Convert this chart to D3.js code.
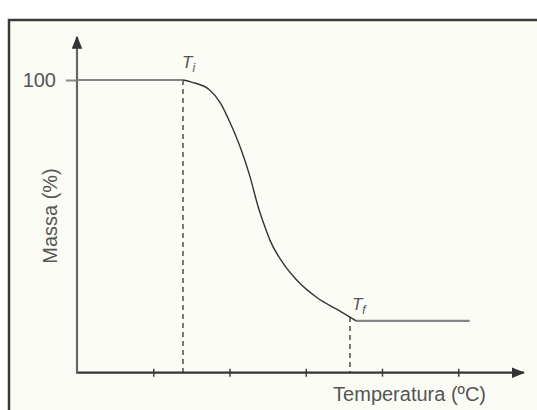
<!DOCTYPE html>
<html>
<head>
<meta charset="utf-8">
<script src="https://cdn.jsdelivr.net/npm/d3@7"></script>
<style>
  body { margin: 0; background: #fff; }
  svg text { font-family: "Liberation Sans", Arial, sans-serif; fill: #555; }
</style>
</head>
<body>
<div id="chart"></div>
<script>
// TGA-like curve: temperature vs mass (%)
var tempTicks = [100, 200, 300, 400, 500];
var massTicks = [100];
var Ti = 139, Tf = 358;
var plateauStart = [[0, 100], [139, 100]];
var curveTemp = [139, 150, 174, 188, 201, 214, 227, 237, 247, 253, 270, 289, 315, 341, 358, 366];
var curveMass = [100, 99.3, 96.6, 92.2, 85.3, 77.1, 66.9, 57.2, 49.4, 45.3, 37.5, 31.4, 25.6, 21.6, 19.0, 17.7];
var plateauEnd = [[366, 17.7], [515, 17.7]];

var width = 537, height = 410;

var svg = d3.select("#chart").append("svg")
    .attr("width", width)
    .attr("height", height);

// frame
svg.append("rect")
    .attr("x", 9).attr("y", 20)
    .attr("width", 600).attr("height", 500)
    .attr("fill", "#fcfcf6")
    .attr("stroke", "#3a3a3a")
    .attr("stroke-width", 2.5);

var xScale = d3.scaleLinear().domain([0, 600]).range([77, 534.5]);
var yScale = d3.scaleLinear().domain([0, 100]).range([372.7, 80]);

// arrow head
svg.append("defs").append("marker")
    .attr("id", "arrow")
    .attr("viewBox", "0 0 10 10")
    .attr("refX", 9).attr("refY", 5)
    .attr("markerWidth", 6).attr("markerHeight", 6)
    .attr("markerUnits", "strokeWidth")
    .attr("orient", "auto")
  .append("path")
    .attr("d", "M0,1 L10,5 L0,9 Z")
    .attr("fill", "#333");

// x axis ticks
var xAxis = svg.append("g")
    .attr("class", "x axis")
    .attr("transform", "translate(0," + yScale(0) + ")")
    .call(d3.axisBottom(xScale).tickValues(tempTicks).tickSizeOuter(0).tickSizeInner(4).tickFormat(""));
xAxis.select(".domain").remove();
xAxis.selectAll("line").attr("y1", -4).attr("y2", 4).attr("stroke", "#444").attr("stroke-width", 1.5);

// y axis tick + label
var yAxis = svg.append("g")
    .attr("class", "y axis")
    .attr("transform", "translate(" + xScale(0) + ",0)")
    .call(d3.axisLeft(yScale).tickValues(massTicks).tickSizeOuter(0).tickSizeInner(11).tickPadding(10));
yAxis.select(".domain").remove();
yAxis.selectAll("line").attr("stroke", "#888").attr("stroke-width", 2);
yAxis.selectAll("text")
    .style("font-size", "20px")
    .style("font-family", "Liberation Sans, Arial, sans-serif")
    .attr("fill", "#555");

// axis lines with arrows
svg.append("line")
    .attr("x1", xScale(0)).attr("y1", yScale(0))
    .attr("x2", xScale(586)).attr("y2", yScale(0))
    .attr("stroke", "#333").attr("stroke-width", 2.2)
    .attr("marker-end", "url(#arrow)");
svg.append("line")
    .attr("x1", xScale(0)).attr("y1", yScale(0) + 1)
    .attr("x2", xScale(0)).attr("y2", yScale(114.7))
    .attr("stroke", "#666").attr("stroke-width", 2.2)
    .attr("marker-end", "url(#arrow)");

// dashed guides
[[Ti, 100], [Tf, 19.0]].forEach(function(d) {
  svg.append("line")
      .attr("x1", xScale(d[0])).attr("y1", yScale(d[1]))
      .attr("x2", xScale(d[0])).attr("y2", yScale(0))
      .attr("stroke", "#333").attr("stroke-width", 1.3)
      .attr("stroke-dasharray", "5,4");
});

var line = d3.line()
    .x(function(d) { return xScale(d[0]); })
    .y(function(d) { return yScale(d[1]); });

// plateaus
[plateauStart, plateauEnd].forEach(function(p) {
  svg.append("path")
      .datum(p)
      .attr("d", line)
      .attr("fill", "none")
      .attr("stroke", "#858585")
      .attr("stroke-width", 2.2);
});

// decomposition curve
var curveData = curveTemp.map(function(t, i) { return [t, curveMass[i]]; });
svg.append("path")
    .datum(curveData)
    .attr("d", line.curve(d3.curveMonotoneX))
    .attr("fill", "none")
    .attr("stroke", "#333")
    .attr("stroke-width", 1.4);

// T labels
function tLabel(x, y, sub) {
  var t = svg.append("text")
      .attr("x", x).attr("y", y)
      .style("font-size", "17px")
      .style("font-style", "italic");
  t.append("tspan").text("T");
  t.append("tspan").attr("dy", 4).style("font-size", "12px").text(sub);
}
tLabel(xScale(Ti) - 1, yScale(100) - 12, "i");
tLabel(xScale(Tf) + 2, yScale(19.0) - 7, "f");

// axis titles
svg.append("text")
    .attr("x", 486).attr("y", 401)
    .attr("text-anchor", "end")
    .style("font-size", "20px")
    .text("Temperatura (ºC)");

svg.append("text")
    .attr("transform", "translate(57,216) rotate(-90)")
    .attr("text-anchor", "middle")
    .style("font-size", "20px")
    .text("Massa (%)");
</script>
</body>
</html>
